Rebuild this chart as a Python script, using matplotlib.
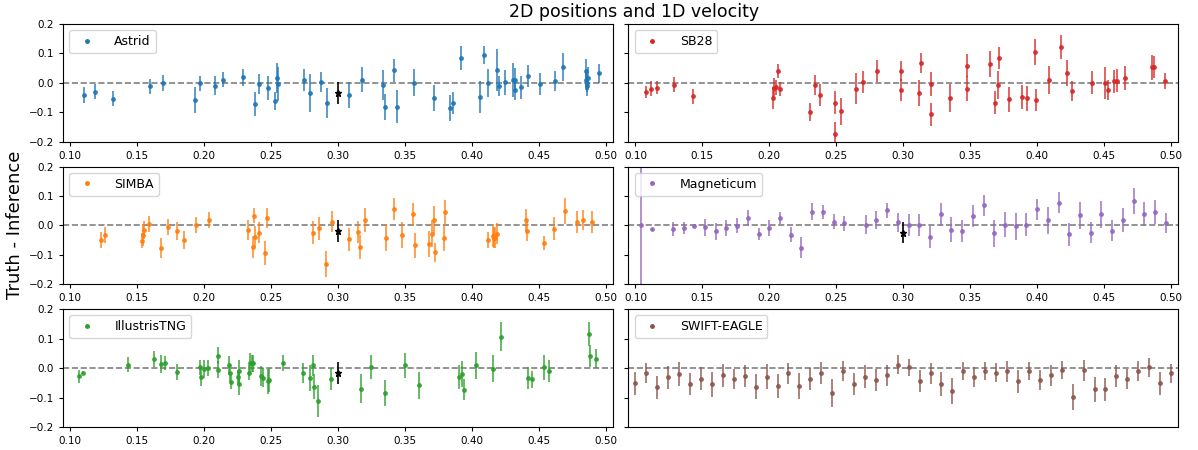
import numpy as np
import matplotlib
matplotlib.use("Agg")
import matplotlib.pyplot as plt

# -------------------------------------------------
# Datos (x, truth - inference, error)
# -------------------------------------------------
astrid_x = [0.1105, 0.119, 0.132, 0.160, 0.1695, 0.193, 0.197, 0.208, 0.214, 0.229,
            0.2385, 0.2415, 0.248, 0.253, 0.2545, 0.255, 0.2745, 0.279, 0.2875, 0.292,
            0.3087, 0.318, 0.334, 0.335, 0.342, 0.344, 0.357, 0.3716, 0.384, 0.386,
            0.392, 0.406, 0.409, 0.412, 0.419, 0.4205, 0.4246, 0.4306, 0.432, 0.4326,
            0.437, 0.442, 0.451, 0.462, 0.468, 0.4853, 0.4855, 0.486, 0.4865, 0.487, 0.4948]
astrid_y = [-0.040, -0.030, -0.053, -0.012, 0.000, -0.059, -0.002, -0.009, 0.011, 0.019,
            -0.071, -0.003, -0.017, -0.062, 0.017, -0.003, 0.010, -0.035, 0.003, -0.068,
            -0.040, 0.011, -0.006, -0.081, 0.043, -0.081, 0.001, -0.052, -0.084, -0.068,
            0.084, -0.047, 0.094, 0.000, 0.043, -0.010, 0.002, 0.010, 0.010, -0.024,
            -0.015, 0.024, -0.003, 0.006, 0.054, 0.010, 0.040, 0.000, -0.012, 0.015, 0.032]
astrid_err = [0.027, 0.025, 0.027, 0.026, 0.027, 0.044, 0.025, 0.033, 0.025, 0.028,
              0.040, 0.033, 0.042, 0.030, 0.052, 0.057, 0.037, 0.064, 0.034, 0.050,
              0.044, 0.042, 0.051, 0.044, 0.039, 0.056, 0.047, 0.045, 0.044, 0.038,
              0.040, 0.054, 0.030, 0.047, 0.072, 0.033, 0.042, 0.058, 0.040, 0.034,
              0.038, 0.038, 0.038, 0.035, 0.048, 0.035, 0.040, 0.030, 0.032, 0.038, 0.031]

sb28_x = [0.108, 0.1115, 0.1158, 0.1288, 0.1433, 0.2025, 0.2035, 0.2048, 0.2068, 0.208,
          0.2305, 0.2338, 0.2375, 0.2488, 0.2493, 0.2533, 0.2648, 0.270, 0.2805, 0.298,
          0.2985, 0.312, 0.313, 0.3205, 0.3206, 0.335, 0.3475, 0.3478, 0.365, 0.3688,
          0.371, 0.3715, 0.379, 0.389, 0.3928, 0.3985, 0.399, 0.409, 0.4175, 0.4225,
          0.426, 0.441, 0.4505, 0.4528, 0.4575, 0.460, 0.4658, 0.486, 0.4875, 0.4958]
sb28_y = [-0.030, -0.019, -0.016, -0.006, -0.045, -0.051, -0.017, -0.015, 0.040, -0.021,
          -0.100, -0.006, -0.040, -0.067, -0.174, -0.097, -0.019, 0.003, 0.041, -0.024,
          0.040, -0.035, 0.067, -0.005, -0.107, -0.052, 0.059, -0.020, 0.063, -0.067,
          -0.006, 0.084, -0.056, -0.047, -0.052, 0.104, -0.059, 0.010, 0.122, 0.034,
          -0.027, 0.001, 0.000, -0.023, 0.005, 0.008, 0.017, 0.053, 0.053, 0.006]
sb28_err = [0.021, 0.027, 0.021, 0.025, 0.026, 0.036, 0.032, 0.025, 0.025, 0.025,
            0.031, 0.034, 0.037, 0.040, 0.041, 0.047, 0.054, 0.038, 0.037, 0.037,
            0.035, 0.045, 0.034, 0.041, 0.038, 0.047, 0.038, 0.042, 0.044, 0.040,
            0.048, 0.038, 0.042, 0.041, 0.042, 0.044, 0.037, 0.049, 0.042, 0.045,
            0.035, 0.038, 0.055, 0.034, 0.039, 0.039, 0.041, 0.042, 0.038, 0.027]

simba_x = [0.123, 0.1258, 0.1538, 0.1545, 0.155, 0.1593, 0.168, 0.1733, 0.180, 0.1853,
           0.194, 0.2038, 0.2328, 0.237, 0.2375, 0.238, 0.241, 0.2455, 0.2475, 0.2815,
           0.286, 0.2915, 0.2958, 0.3082, 0.3154, 0.3167, 0.3201, 0.336, 0.3423, 0.348,
           0.356, 0.358, 0.368, 0.3704, 0.372, 0.3729, 0.379, 0.3803, 0.412, 0.4157,
           0.4164, 0.4174, 0.4189, 0.4405, 0.441, 0.454, 0.4612, 0.470, 0.4786, 0.4828, 0.4896]
simba_y = [-0.049, -0.032, -0.051, -0.033, -0.016, 0.005, -0.076, -0.006, -0.019, -0.049,
           0.001, 0.018, -0.016, -0.073, 0.033, -0.038, -0.024, -0.094, 0.026, -0.024,
           -0.010, -0.131, 0.013, -0.047, -0.022, -0.072, 0.018, -0.041, 0.056, -0.033,
           0.038, -0.067, -0.064, -0.028, 0.019, -0.091, -0.044, 0.045, -0.049, -0.034,
           -0.042, -0.041, -0.028, 0.017, -0.017, -0.060, -0.011, 0.049, 0.0125, 0.019, 0.0125]
simba_err = [0.027, 0.026, 0.027, 0.037, 0.030, 0.028, 0.033, 0.027, 0.031, 0.031,
             0.028, 0.027, 0.034, 0.036, 0.026, 0.036, 0.035, 0.041, 0.034, 0.039,
             0.038, 0.043, 0.036, 0.038, 0.038, 0.041, 0.040, 0.045, 0.037, 0.045,
             0.040, 0.043, 0.044, 0.045, 0.047, 0.032, 0.043, 0.043, 0.027, 0.039,
             0.035, 0.035, 0.036, 0.040, 0.035, 0.024, 0.039, 0.045, 0.037, 0.035, 0.037]

magneticum_x = [0.104, 0.112, 0.128, 0.136, 0.144, 0.152, 0.160, 0.168, 0.176, 0.184,
                0.192, 0.200, 0.208, 0.216, 0.224, 0.232, 0.240, 0.248, 0.256, 0.272,
                0.280, 0.288, 0.296, 0.304, 0.312, 0.320, 0.328, 0.336, 0.344, 0.352,
                0.360, 0.368, 0.376, 0.384, 0.392, 0.400, 0.408, 0.416, 0.424, 0.432,
                0.440, 0.448, 0.456, 0.464, 0.472, 0.480, 0.488, 0.496]
magneticum_y = [0.001, -0.0125, -0.0125, -0.008, -0.001, -0.006, -0.020, -0.008, -0.001, 0.024,
                -0.030, -0.008, 0.026, -0.031, -0.075, 0.047, 0.047, 0.0125, 0.007, 0.003,
                0.018, 0.051, 0.011, 0.003, 0.003, -0.039, 0.0375, -0.014, -0.018, 0.033,
                0.068, -0.027, 0.003, -0.003, 0.003, 0.055, 0.017, 0.077, -0.030, 0.034,
                -0.025, 0.0375, -0.017, 0.018, 0.084, 0.040, 0.047, 0.007]
magneticum_err = [0.21, 0.005, 0.023, 0.020, 0.006, 0.028, 0.028, 0.026, 0.026, 0.027,
                  0.020, 0.027, 0.021, 0.026, 0.035, 0.030, 0.024, 0.026, 0.026, 0.031,
                  0.031, 0.027, 0.033, 0.037, 0.037, 0.037, 0.038, 0.042, 0.037, 0.037,
                  0.036, 0.047, 0.043, 0.045, 0.040, 0.036, 0.047, 0.035, 0.038, 0.047,
                  0.036, 0.047, 0.036, 0.040, 0.044, 0.041, 0.041, 0.034]

tng_x = [0.107, 0.110, 0.1435, 0.163, 0.168, 0.1708, 0.1803, 0.1968, 0.198, 0.200,
         0.2033, 0.2108, 0.2109, 0.219, 0.2195, 0.220, 0.2253, 0.226, 0.2265, 0.234,
         0.2348, 0.2358, 0.2368, 0.243, 0.2438, 0.248, 0.2488, 0.259, 0.274, 0.2795,
         0.2813, 0.282, 0.2855, 0.295, 0.3175, 0.3245, 0.3353, 0.350, 0.3608, 0.3908,
         0.3925, 0.3943, 0.4035, 0.4163, 0.4218, 0.442, 0.445, 0.4543, 0.4578, 0.4878,
         0.4883, 0.493]
tng_y = [-0.028, -0.015, 0.012, 0.032, 0.015, 0.017, -0.014, 0.003, -0.029, -0.003,
         0.001, 0.042, -0.005, 0.009, -0.018, -0.047, -0.031, -0.055, -0.010, -0.016,
         0.017, 0.016, 0.016, -0.028, -0.033, -0.045, -0.040, 0.016, -0.018, -0.035,
         0.009, -0.063, -0.111, -0.038, -0.070, 0.003, -0.084, 0.010, -0.059, -0.031,
         -0.021, -0.073, 0.009, -0.002, 0.107, -0.033, -0.038, 0.002, -0.009, 0.116,
         0.041, 0.032]
tng_err = [0.021, 0.005, 0.024, 0.027, 0.031, 0.025, 0.027, 0.025, 0.033, 0.031,
           0.027, 0.028, 0.030, 0.032, 0.030, 0.024, 0.026, 0.037, 0.036, 0.025,
           0.035, 0.030, 0.029, 0.034, 0.032, 0.042, 0.040, 0.027, 0.034, 0.044,
           0.037, 0.043, 0.054, 0.038, 0.049, 0.041, 0.045, 0.042, 0.045, 0.041,
           0.044, 0.037, 0.046, 0.045, 0.048, 0.038, 0.029, 0.041, 0.037, 0.041,
           0.037, 0.033]

swift_x = np.linspace(0.10, 0.50, 50)
swift_y = [-0.052, -0.016, -0.065, -0.031, -0.020, -0.054, -0.036, -0.055, -0.025, -0.036,
           -0.027, -0.063, -0.029, -0.061, -0.018, -0.061, -0.038, -0.016, -0.084, -0.011,
           -0.055, -0.029, -0.040, -0.025, 0.012, 0.003, -0.044, -0.018, -0.054, -0.079,
           -0.009, -0.030, -0.010, -0.016, -0.011, -0.044, -0.010, -0.040, -0.025, -0.007,
           -0.099, -0.007, -0.072, -0.072, -0.027, -0.037, -0.010, 0.002, -0.052, -0.018]
swift_err = [0.038, 0.033, 0.039, 0.039, 0.040, 0.038, 0.039, 0.042, 0.039, 0.034,
             0.036, 0.043, 0.042, 0.040, 0.035, 0.044, 0.038, 0.038, 0.047, 0.034,
             0.038, 0.039, 0.038, 0.037, 0.031, 0.029, 0.037, 0.035, 0.040, 0.044,
             0.031, 0.035, 0.032, 0.032, 0.035, 0.039, 0.030, 0.034, 0.037, 0.031,
             0.044, 0.036, 0.043, 0.040, 0.038, 0.035, 0.033, 0.033, 0.038, 0.033]

# punto de referencia (negro) en x = 0.30
fid_x = 0.30
fid_y = {"Astrid": -0.035, "SIMBA": -0.018, "Magneticum": -0.024, "IllustrisTNG": -0.016}
fid_err = {"Astrid": 0.038, "SIMBA": 0.037, "Magneticum": 0.036, "IllustrisTNG": 0.038}

paneles = [
    ("Astrid", astrid_x, astrid_y, astrid_err, "C0"),
    ("SB28", sb28_x, sb28_y, sb28_err, "C3"),
    ("SIMBA", simba_x, simba_y, simba_err, "C1"),
    ("Magneticum", magneticum_x, magneticum_y, magneticum_err, "C4"),
    ("IllustrisTNG", tng_x, tng_y, tng_err, "C2"),
    ("SWIFT-EAGLE", swift_x, swift_y, swift_err, "C5"),
]

# -------------------------------------------------
# Figura
# -------------------------------------------------
fig, axes = plt.subplots(3, 2, figsize=(11.98, 4.5), dpi=100, sharey=True)
fig.subplots_adjust(left=0.0526, right=0.9833, top=0.9467, bottom=0.0511,
                    wspace=0.029, hspace=0.21)

for ax, (nombre, x, y, err, color) in zip(axes.flat, paneles):
    ax.axhline(0, color="gray", ls="--", lw=1.2, zorder=0)
    ax.errorbar(x, y, yerr=err, fmt=".", color=color, ms=5, elinewidth=1.2,
                alpha=0.85)
    # solo el punto en la leyenda, sin la barra
    ax.plot([], [], ".", color=color, ms=5, label=nombre)
    if nombre in fid_y:
        ax.errorbar(fid_x, fid_y[nombre], yerr=fid_err[nombre], fmt="*",
                    color="black", ms=5, elinewidth=1.2)
    ax.set_xlim(0.0948, 0.5052)
    ax.set_ylim(-0.2, 0.2)
    ax.set_yticks([-0.2, -0.1, 0.0, 0.1, 0.2])
    ax.tick_params(labelsize=7.5, length=3)
    ax.legend(loc="upper left", fontsize=9, handletextpad=1.2)

axes[2, 1].set_xticks([])

fig.suptitle("2D positions and 1D velocity", x=0.529, y=0.973, va="center", fontsize=12.5)
fig.text(0.0125, 0.5, "Truth - Inference", rotation=90, va="center", ha="center", fontsize=13)

fig.savefig("out.png", dpi=100)
